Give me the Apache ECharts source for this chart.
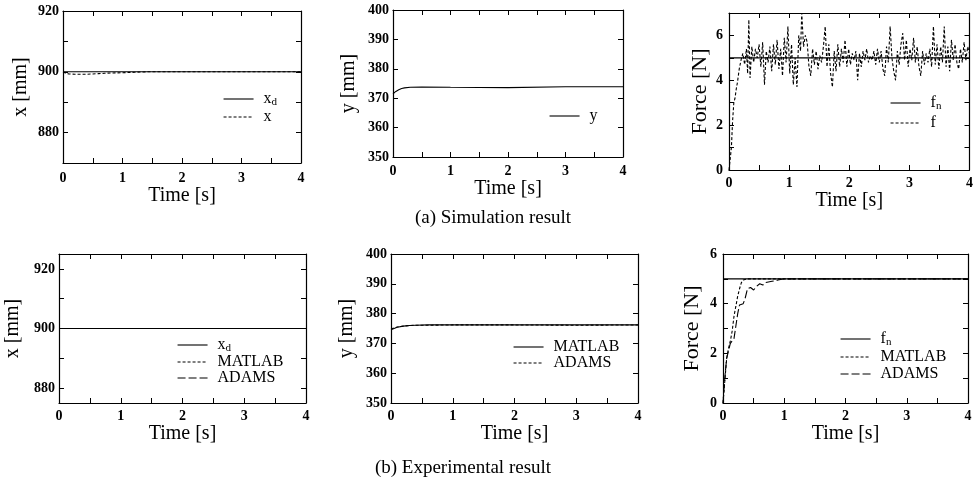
<!DOCTYPE html>
<html><head><meta charset="utf-8">
<script src="https://cdn.jsdelivr.net/npm/echarts@6/dist/echarts.min.js"></script>
<style>html,body{margin:0;padding:0;background:#fff}#c{width:976px;height:484px}</style>
</head><body><div id="c"></div>
<script>
// ---------- data ----------
const xTicks = [0, 1, 2, 3, 4];
// (a) Simulation: x
const simXdT = [0, 4];
const simXdV = [900, 900];
const simXT = [0, 0.05, 0.1, 0.2, 0.3, 0.4, 0.5, 0.6, 0.7, 0.8, 1.0, 1.2, 1.4, 2, 3, 4];
const simXV = [900, 899.5, 899.3, 899.2, 899.2, 899.2, 899.3, 899.4, 899.5, 899.6, 899.7, 899.85, 900, 900, 900, 900];
// (a) Simulation: y
const simYT = [0, 0.05, 0.1, 0.15, 0.2, 0.3, 0.5, 1, 2, 3, 4];
const simYV = [371.5, 372.3, 372.9, 373.3, 373.5, 373.7, 373.8, 373.7, 373.6, 373.9, 373.9];
// (a) Simulation: force
const simFnT = [0, 4];
const simFnV = [5, 5];
const simFT = [0,0.02,0.04,0.06,0.08,0.1,0.12,0.14,0.17,0.2,0.23,0.26,0.29,0.31,0.33,0.35,0.38,0.41,0.44,0.47,0.5,0.53,0.56,0.59,0.62,0.65,0.68,0.71,0.74,0.77,0.8,0.83,0.86,0.89,0.92,0.95,0.98,1.01,1.04,1.07,1.1,1.13,1.16,1.19,1.21,1.24,1.27,1.3,1.33,1.36,1.39,1.42,1.45,1.48,1.51,1.54,1.57,1.6,1.63,1.66,1.69,1.72,1.75,1.78,1.81,1.84,1.87,1.9,1.93,1.96,1.99,2.02,2.05,2.08,2.11,2.14,2.17,2.2,2.23,2.26,2.29,2.32,2.35,2.38,2.41,2.44,2.47,2.5,2.53,2.56,2.59,2.62,2.65,2.68,2.71,2.74,2.77,2.8,2.83,2.86,2.89,2.92,2.95,2.98,3.01,3.04,3.07,3.1,3.13,3.16,3.19,3.22,3.25,3.28,3.31,3.34,3.37,3.4,3.43,3.46,3.49,3.52,3.55,3.58,3.61,3.64,3.67,3.7,3.73,3.76,3.79,3.82,3.85,3.88,3.91,3.94,3.97,4.0];
const simFV = [0,0.5,1.0,2.2,3.0,3.2,3.6,3.9,4.5,4.9,5.2,4.7,5.4,4.3,6.7,4.1,5.5,4.8,5.4,5.0,5.6,4.6,5.7,3.8,5.3,4.8,5.5,4.4,5.6,4.7,5.8,4.5,5.4,4.2,5.9,4.8,6.4,4.3,5.6,3.8,5.0,3.7,6.0,5.3,7.0,5.5,6.0,5.7,4.6,4.2,5.4,4.7,5.3,4.5,5.1,4.8,5.5,6.4,4.6,5.6,4.3,3.7,5.3,4.4,5.6,4.6,5.4,4.8,5.8,4.6,5.4,4.7,5.2,4.9,5.3,4.0,5.2,4.6,5.3,4.9,5.4,4.8,5.1,4.9,5.3,4.7,5.4,4.8,5.3,4.5,4.2,5.5,4.8,6.4,5.0,4.4,4.0,5.3,4.7,5.6,6.1,4.9,5.8,4.6,5.4,4.9,5.9,4.8,5.5,4.6,4.2,5.3,4.7,5.2,4.8,5.4,4.6,6.4,4.7,5.6,4.5,5.5,4.8,6.4,4.6,5.5,4.4,5.8,4.9,5.6,4.8,4.5,5.4,4.8,5.7,4.9,5.5,5.2];
// (b) Experimental: x
const expXdT = [0, 4];
const expXdV = [900, 900];
const expXMatT = [0, 4];
const expXMatV = [900, 900];
const expXAdT = [0, 4];
const expXAdV = [900, 900];
// (b) Experimental: y
const expYMatT = [0, 0.05, 0.1, 0.2, 0.3, 0.4, 0.6, 1, 2, 3, 4];
const expYMatV = [374.6, 375.0, 375.4, 375.8, 376.0, 376.1, 376.2, 376.2, 376.2, 376.2, 376.2];
const expYAdT = [0, 0.05, 0.1, 0.2, 0.3, 0.4, 0.6, 1, 2, 3, 4];
const expYAdV = [374.8, 375.2, 375.5, 375.8, 376.0, 376.1, 376.1, 376.2, 376.2, 376.1, 376.2];
// (b) Experimental: force
const expFnT = [0, 4];
const expFnV = [5, 5];
const expFMatT = [0,0.02,0.04,0.06,0.09,0.12,0.15,0.18,0.21,0.24,0.27,0.3,0.33,0.36,0.4,0.5,1,2,4];
const expFMatV = [0,0.6,1.2,1.8,2.2,2.5,2.9,3.5,3.9,4.3,4.6,4.85,4.95,5,5,5,5,5,5];
const expFAdT = [0,0.02,0.04,0.06,0.09,0.12,0.15,0.18,0.21,0.24,0.27,0.3,0.33,0.36,0.4,0.45,0.5,0.55,0.6,0.65,0.7,0.8,0.9,1.0,1.2,2,4];
const expFAdV = [0,0.7,1.3,1.8,2.1,2.4,2.5,2.6,3.1,3.6,3.95,4.0,4.0,4.2,4.6,4.65,4.55,4.7,4.8,4.75,4.85,4.9,4.95,5,5,5,5];

const legendText = {
  xd1: '{n|x}{s|d}', x1: '{n|x}', y2: '{n|y}', fn3: '{n|f}{s|n}', f3: '{n|f}',
  xd4: '{n|x}{s|d}', mat4: '{n|MATLAB}', ad4: '{n|ADAMS}',
  mat5: '{n|MATLAB}', ad5: '{n|ADAMS}',
  fn6: '{n|f}{s|n}', mat6: '{n|MATLAB}', ad6: '{n|ADAMS}'
};

// ---------- chart ----------
const SERIF = '"Liberation Serif", "Times New Roman", serif';
const chart = echarts.init(document.getElementById('c'));
const grids = [], xAxes = [], yAxes = [], series = [], legends = [];
const zip = (t, v) => t.map((ti, i) => [ti, v[i]]);
const SOLID = 'solid', DOT = [3, 2], DASH = [8, 3];

function panel(p) {
  const gi = grids.length;
  grids.push({left: p.l, top: p.t, width: p.w, height: p.h});
  const tick = {show: true, inside: true, length: 5, lineStyle: {color: '#000', width: 1}};
  const line = {show: true, onZero: false, lineStyle: {color: '#000', width: 1.2}};
  const xi = xAxes.length;
  xAxes.push({type: 'value', gridIndex: gi, position: 'bottom', min: 0, max: 4, interval: 0.5,
    axisLine: line, axisTick: tick, splitLine: {show: false},
    axisLabel: {color: '#000', fontFamily: SERIF, fontWeight: 'bold', fontSize: 14, margin: p.xm,
      formatter: v => (xTicks.indexOf(v) >= 0 ? String(v) : '')},
    name: 'Time [s]', nameLocation: 'middle', nameGap: p.xng,
    nameTextStyle: {color: '#000', fontFamily: SERIF, fontSize: 20}});
  xAxes.push({type: 'value', gridIndex: gi, position: 'top', min: 0, max: 4, interval: 0.5,
    axisLine: line, axisTick: tick, axisLabel: {show: false}, splitLine: {show: false}});
  const yi = yAxes.length;
  const yl = {type: 'value', gridIndex: gi, position: 'left', min: p.ymin, max: p.ymax,
    axisLine: line, axisTick: tick, splitLine: {show: false},
    axisLabel: {color: '#000', fontFamily: SERIF, fontWeight: 'bold', fontSize: 14, margin: p.ym},
    name: p.yname, nameLocation: 'middle', nameGap: p.yng, nameRotate: 90,
    nameTextStyle: {color: '#000', fontFamily: SERIF, fontSize: p.ynf || 20}};
  const yr = {type: 'value', gridIndex: gi, position: 'right', min: p.ymin, max: p.ymax,
    axisLine: line, axisTick: tick, axisLabel: {show: false}, splitLine: {show: false}};
  if (p.yticks) {
    yl.axisTick = Object.assign({}, tick, {customValues: p.yticks});
    yl.axisLabel.customValues = p.ylabels;
    yr.axisTick = Object.assign({}, tick, {customValues: p.yticks});
  } else {
    yl.interval = p.yint; yr.interval = p.yint;
    yl.axisLabel.formatter = v => (p.ylabels.indexOf(v) >= 0 ? String(v) : '');
  }
  yAxes.push(yl, yr);
  p.series.forEach(s => series.push({type: 'line', name: s.name, xAxisIndex: xi, yAxisIndex: yi,
    data: zip(s.t, s.v), symbol: 'none', showSymbol: false, silent: true, animation: false,
    itemStyle: {color: '#000'},
    lineStyle: {color: '#000', width: 1.1, type: s.type}}));
  legends.push({left: p.lgx, top: p.lgy, orient: 'vertical', itemWidth: 30, itemHeight: 10,
    itemGap: p.lgGap, selectedMode: false, data: p.series.map(s => s.name),
    itemStyle: {opacity: 0, borderWidth: 0},
    lineStyle: {width: 1.1},
    formatter: n => legendText[n],
    textStyle: {color: '#000', fontFamily: SERIF, padding: [0, 0, 0, 5],
      rich: {n: {fontSize: 16, fontFamily: SERIF, color: '#000', lineHeight: 18},
             s: {fontSize: 11, fontFamily: SERIF, color: '#000', lineHeight: 18, verticalAlign: 'bottom', padding: [6, 0, 0, 0]}}}});
}

panel({l: 63, t: 11, w: 238, h: 152, ymin: 870, ymax: 920, yint: 10, ylabels: [880, 900, 920],
  yname: 'x [mm]', yng: 32, ym: 4, xm: 8, xng: 20, lgx: 218, lgy: 86, lgGap: 1,
  series: [{name: 'xd1', t: simXdT, v: simXdV, type: SOLID}, {name: 'x1', t: simXT, v: simXV, type: DOT}]});
panel({l: 393, t: 10, w: 230, h: 147, ymin: 350, ymax: 400, yint: 10, ylabels: [350, 360, 370, 380, 390, 400],
  yname: 'y [mm]', yng: 34, ym: 4, xm: 7, xng: 20, lgx: 544, lgy: 103, lgGap: 1,
  series: [{name: 'y2', t: simYT, v: simYV, type: SOLID}]});
panel({l: 729, t: 13, w: 243, h: 157, ymin: 0, ymax: 7, yint: 1, ylabels: [0, 2, 4, 6],
  yname: 'Force [N]', yng: 18, ynf: 22, ym: 6, xm: 6, xng: 18, lgx: 885, lgy: 90, lgGap: 3,
  series: [{name: 'fn3', t: simFnT, v: simFnV, type: SOLID}, {name: 'f3', t: simFT, v: simFV, type: DOT}]});
panel({l: 59, t: 254, w: 247, h: 149, ymin: 875, ymax: 925, yticks: [880, 890, 900, 910, 920], ylabels: [880, 900, 920],
  yname: 'x [mm]', yng: 36, ym: 4, xm: 6, xng: 19, lgx: 172, lgy: 332, lgGap: 0,
  series: [{name: 'xd4', t: expXdT, v: expXdV, type: SOLID}, {name: 'mat4', t: expXMatT, v: expXMatV, type: DOT},
           {name: 'ad4', t: expXAdT, v: expXAdV, type: DASH}]});
panel({l: 391, t: 254, w: 247, h: 149, ymin: 350, ymax: 400, yint: 10, ylabels: [350, 360, 370, 380, 390, 400],
  yname: 'y [mm]', yng: 34, ym: 4, xm: 6, xng: 19, lgx: 508, lgy: 334, lgGap: 0,
  series: [{name: 'mat5', t: expYMatT, v: expYMatV, type: SOLID}, {name: 'ad5', t: expYAdT, v: expYAdV, type: DOT}]});
panel({l: 723, t: 254, w: 245, h: 149, ymin: 0, ymax: 6, yint: 1, ylabels: [0, 2, 4, 6],
  yname: 'Force [N]', yng: 20, ynf: 22, ym: 6, xm: 6, xng: 19, lgx: 835, lgy: 326, lgGap: 1,
  series: [{name: 'fn6', t: expFnT, v: expFnV, type: SOLID}, {name: 'mat6', t: expFMatT, v: expFMatV, type: DOT},
           {name: 'ad6', t: expFAdT, v: expFAdV, type: DASH}]});

chart.setOption({
  backgroundColor: '#fff',
  animation: false,
  title: [
    {text: '(a) Simulation result', left: 488, top: 204, textAlign: 'center',
     textStyle: {fontFamily: SERIF, fontSize: 19, fontWeight: 'normal', color: '#000'}},
    {text: '(b) Experimental result', left: 458, top: 454, textAlign: 'center',
     textStyle: {fontFamily: SERIF, fontSize: 19, fontWeight: 'normal', color: '#000'}}
  ],
  grid: grids, xAxis: xAxes, yAxis: yAxes, legend: legends, series: series
});
</script></body></html>
